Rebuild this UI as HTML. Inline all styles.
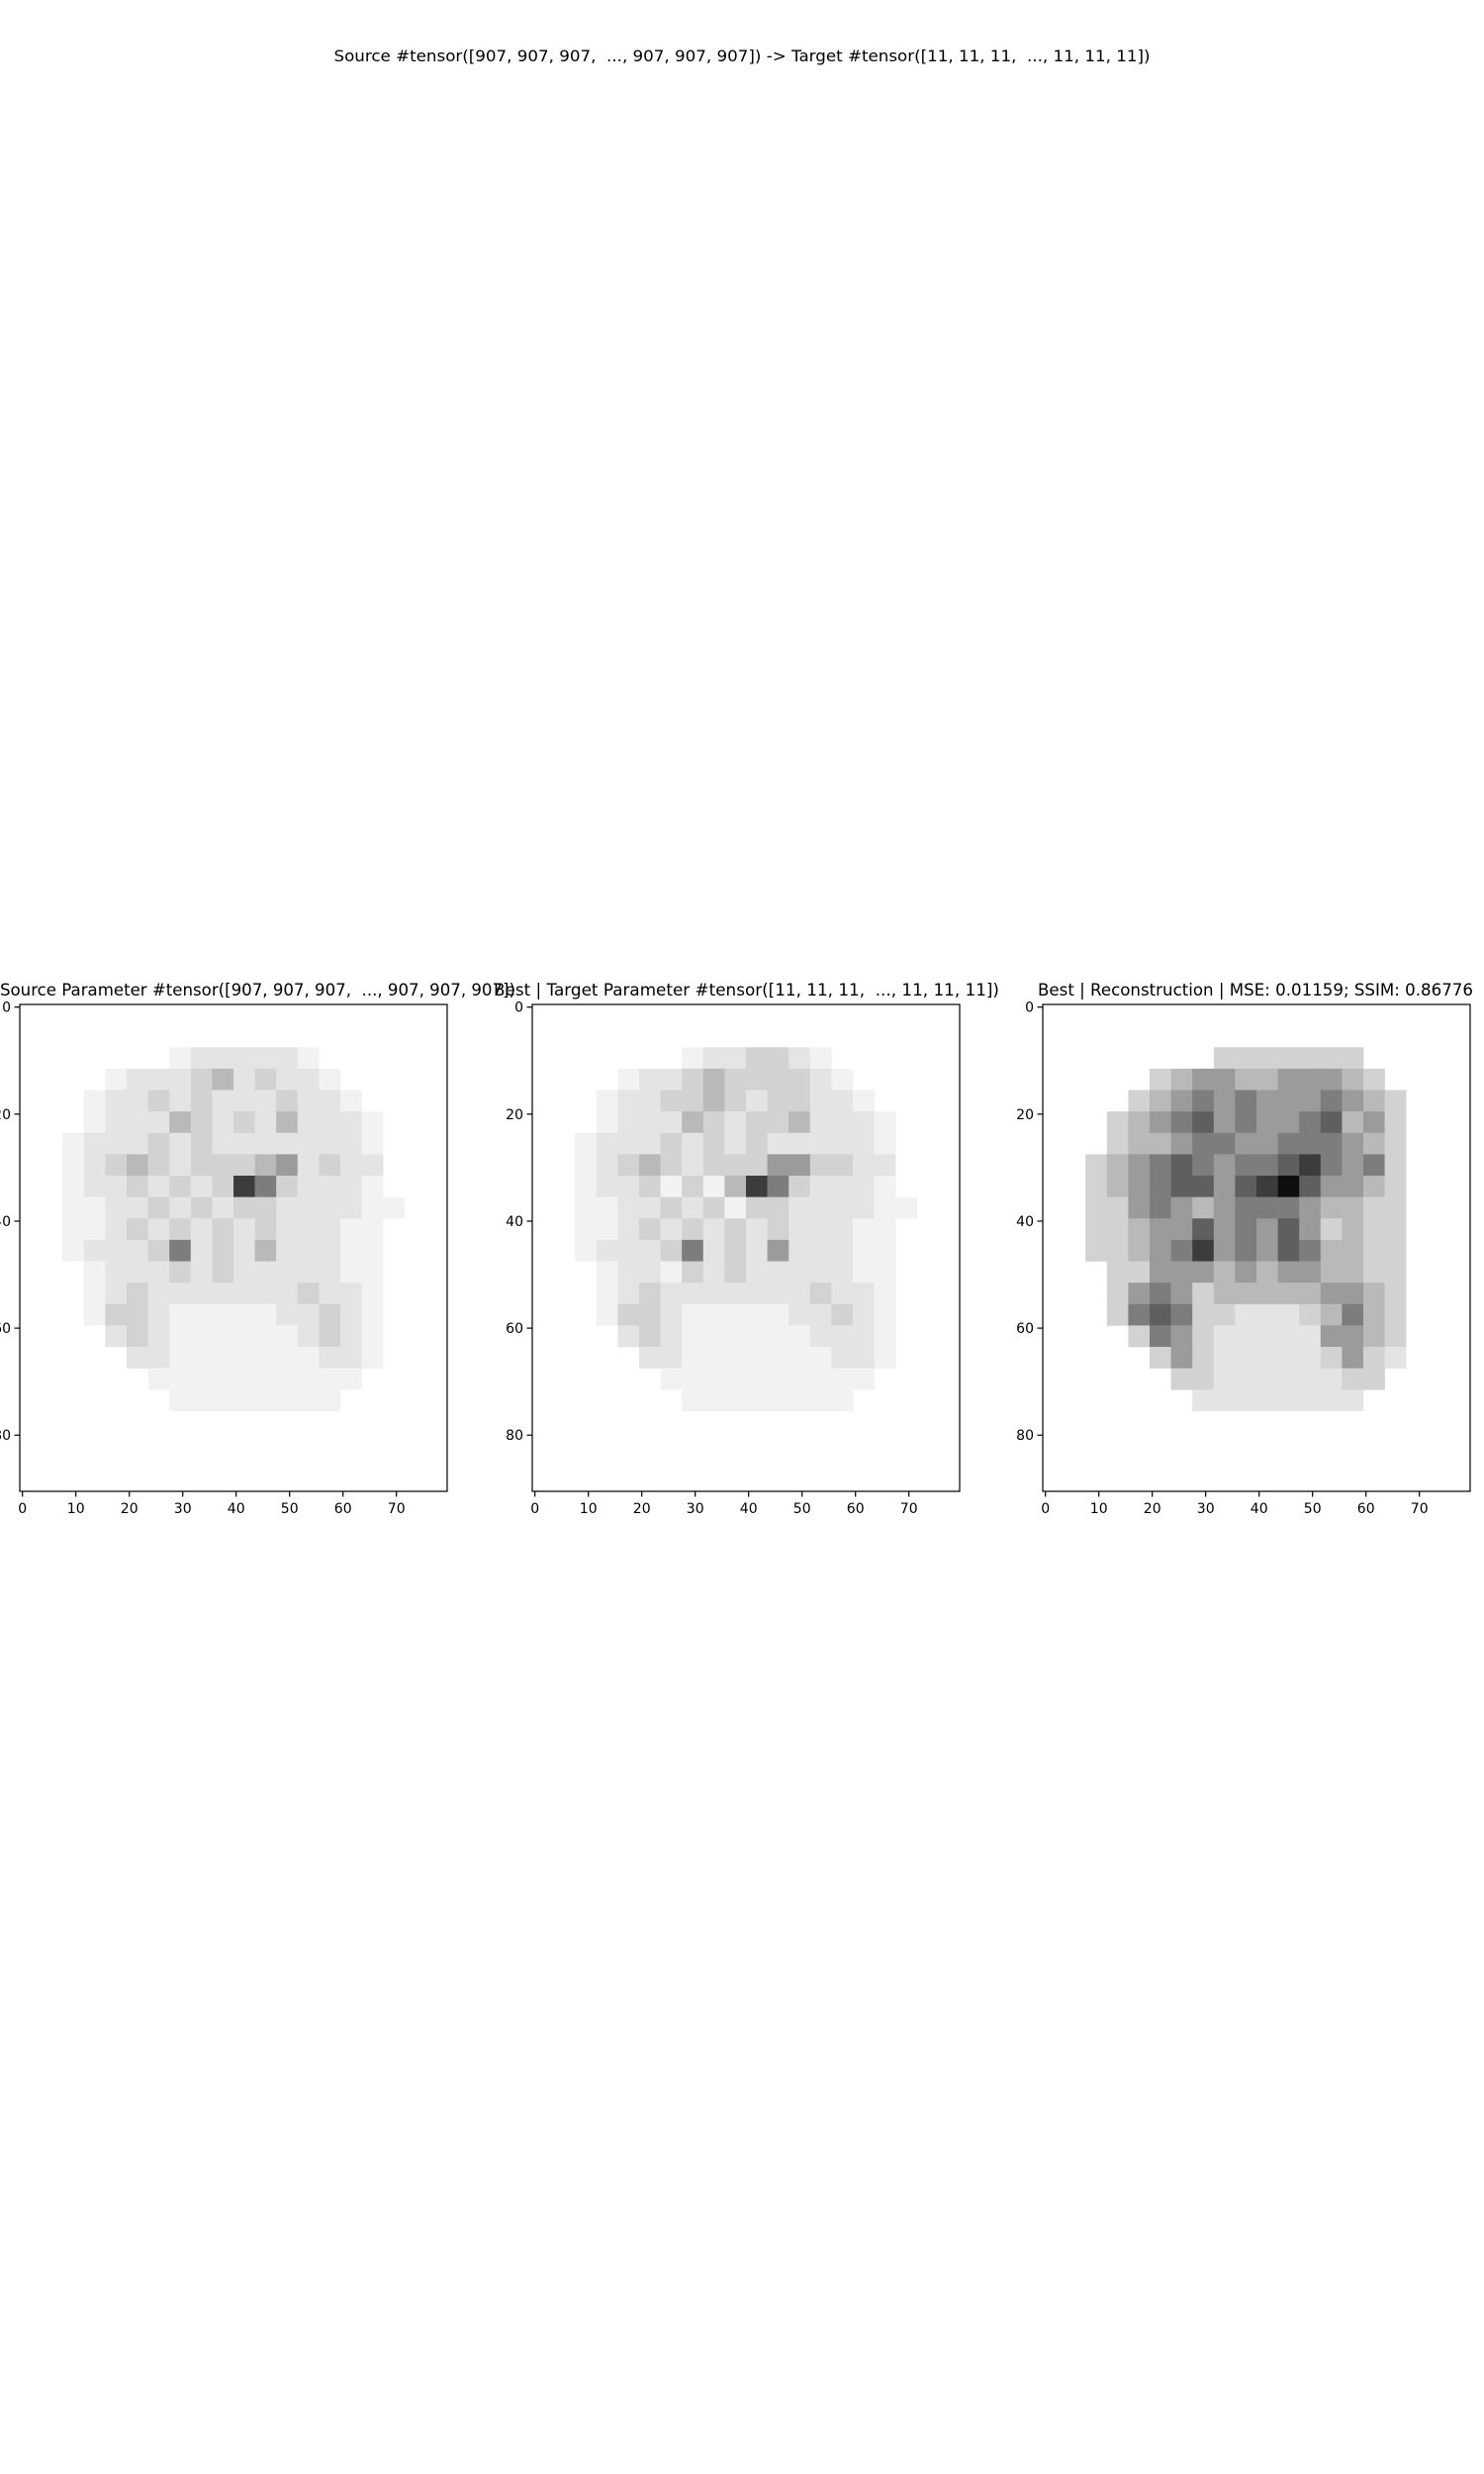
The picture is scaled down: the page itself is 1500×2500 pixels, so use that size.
<!DOCTYPE html>
<html><head><meta charset="utf-8"><style>
html,body{margin:0;padding:0;background:#fff;}
svg{display:block;font-family:"DejaVu Sans","Liberation Sans",sans-serif;}
</style></head><body>
<svg id="fig" width="1500" height="2500" xmlns="http://www.w3.org/2000/svg">
<rect width="1500" height="2500" fill="#fff"/>
<text x="750" y="62" font-size="16" text-anchor="middle" textLength="825" lengthAdjust="spacingAndGlyphs" style="white-space:pre">Source #tensor([907, 907, 907,  ..., 907, 907, 907]) -&gt; Target #tensor([11, 11, 11,  ..., 11, 11, 11])</text>
</svg>
<script>
// coarse image data: each char = darkness 0-9 for a 4x4 block of image pixels (80 wide x 91 tall)
const xTicks = [0,10,20,30,40,50,60,70];
const yTicks = [0,20,40,60,80];
const titles = ["Source Parameter #tensor([907, 907, 907,  ..., 907, 907, 907])",
  "Best | Target Parameter #tensor([11, 11, 11,  ..., 11, 11, 11])",
  "Best | Reconstruction | MSE: 0.01159; SSIM: 0.86776"];
const sourceImg = [
"00000000000000000000",
"00000000000000000000",
"00000001222221000000",
"00001222342322100000",
"00012232322232210000",
"00012224323242221000",
"00122232322222221000",
"00123432333452322000",
"00122323238632221000",
"00112232323322221100",
"00112323232322211000",
"00122236232422211000",
"00012223232222211000",
"00012322222223221000",
"00013321111122321000",
"00002321111112321000",
"00000221111111221000",
"00000011111111110000",
"00000001111111100000",
"00000000000000000000",
"00000000000000000000",
"00000000000000000000",
"00000000000000000000"];
const targetImg = [
"00000000000000000000",
"00000000000000000000",
"00000001223321000000",
"00001223433332100000",
"00012233432332210000",
"00012224323342221000",
"00122232323222221000",
"00123432333553322000",
"00122313148632221000",
"00112232313322221100",
"00112323232322211000",
"00122236232522211000",
"00012213232222211000",
"00012322222223221000",
"00013321111122321000",
"00002321111112221000",
"00000221111111221000",
"00000011111111110000",
"00000001111111100000",
"00000000000000000000",
"00000000000000000000",
"00000000000000000000",
"00000000000000000000"];
const reconImg = [
"00000000000000000000",
"00000000000000000000",
"00000000333333300000",
"00000345544555430000",
"00003456565556543000",
"00034567565567453000",
"00034456655666543000",
"00345676566786563000",
"00345677578975543000",
"00335654566654433000",
"00334557565753433000",
"00334568565764433000",
"00033555454554433000",
"00035653444445543000",
"00036763322234643000",
"00003653222225543000",
"00000353222223532000",
"00000033222222330000",
"00000002222222200000",
"00000000000000000000",
"00000000000000000000",
"00000000000000000000",
"00000000000000000000"];
const panelImgs = [sourceImg, targetImg, reconImg];
const panelNames = ["source","target","reconstruction"];
const grayLUT = [255,242,228,210,185,155,125,95,60,15];
const axLeft = [20, 538, 1054];
const titleX = [0, 499, 1049];
const titleW = [521, 511, 440];
const axTop = 1015, axW = 432, axH = 492;
const NS = "http://www.w3.org/2000/svg";
const fig = document.getElementById('fig');
function mk(tag, attrs, parent){const e=document.createElementNS(NS,tag);for(const k in attrs)e.setAttribute(k,attrs[k]);(parent||fig).appendChild(e);return e;}
for (let p=0;p<3;p++){
  const L = axLeft[p];
  const sx = v => L + (v+0.5)*axW/80;
  const sy = v => axTop + (v+0.5)*axH/91;
  const g = mk('g',{});
  
  
  const img = panelImgs[p];
  for (let r=0;r<img.length;r++){
    for (let c=0;c<img[r].length;c++){
      const d = +img[r][c];
      if (d===0) continue;
      const y0 = r*4-0.5, y1 = Math.min(r*4+3.5, 90.5);
      if (y0>=90.5) continue;
      const gray = grayLUT[d];
      const cell = mk('rect',{x:sx(c*4-0.5),y:sy(y0),width:sx(c*4+3.5)-sx(c*4-0.5)+0.3,height:sy(y1)-sy(y0)+0.3,fill:`rgb(${gray},${gray},${gray})`},g);
      
      
    }
  }
  const frame = mk('rect',{x:L,y:axTop,width:axW,height:axH,fill:'none',stroke:'#000','stroke-width':1.2});
  
  
  xTicks.forEach(t=>{
    const x = sx(t);
    const tk = mk('line',{x1:x,x2:x,y1:axTop+axH,y2:axTop+axH+5.5,stroke:'#000','stroke-width':1.2});
    
    
    const lb = mk('text',{x:x,y:axTop+axH+22,'font-size':14,'text-anchor':'middle'});
    lb.textContent = t;
    
    
  });
  yTicks.forEach(t=>{
    const y = sy(t);
    const tk = mk('line',{x1:L-5.5,x2:L,y1:y,y2:y,stroke:'#000','stroke-width':1.2});
    
    
    const lb = mk('text',{x:L-9,y:y+5,'font-size':14,'text-anchor':'end'});
    lb.textContent = t;
    
    
  });
  const tl = mk('text',{x:titleX[p],y:axTop-9,'font-size':16.5,'text-anchor':'start',textLength:titleW[p],lengthAdjust:'spacingAndGlyphs',style:'white-space:pre'});
  tl.textContent = titles[p];
  
  
}
</script>
</body></html>
